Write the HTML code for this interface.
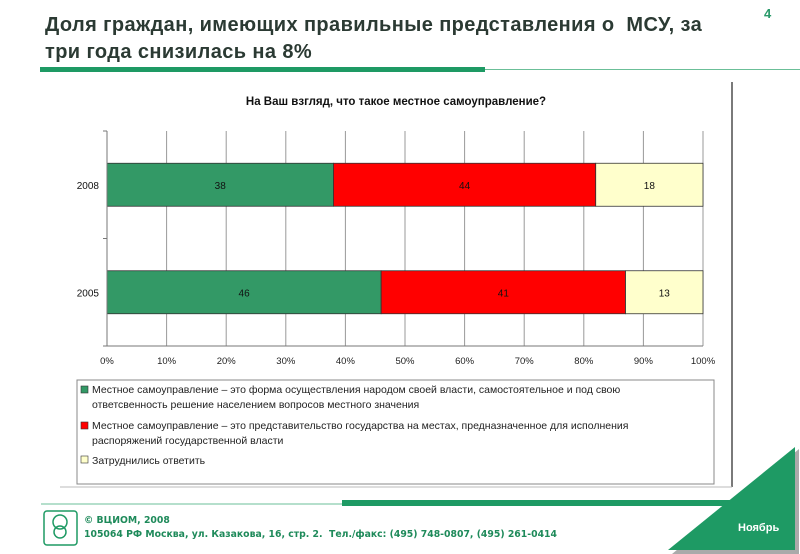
<!DOCTYPE html>
<html><head><meta charset="utf-8"><style>
body{margin:0;width:800px;height:554px;background:#fff;overflow:hidden;position:relative;font-family:"Liberation Sans","DejaVu Sans",sans-serif}
.abs{position:absolute}
</style></head><body>
<div class="abs" style="left:45px;top:12px;width:720px;font-size:20px;letter-spacing:0.4px;font-weight:bold;line-height:27px;color:#2b3a33;white-space:nowrap">Доля граждан, имеющих правильные представления о&nbsp; МСУ, за<br>три года снизилась на 8%</div>
<div class="abs" style="left:764px;top:6px;font-size:13px;font-weight:bold;color:#2a9a6a">4</div>
<div class="abs" style="left:40px;top:67px;width:445px;height:5px;background:#1e9a64"></div>
<div class="abs" style="left:485px;top:69px;width:315px;height:1px;background:#6bbf98"></div>

<svg class="abs" style="left:0;top:0" width="800" height="554">
<line x1="732" y1="82" x2="732" y2="487" stroke="#222" stroke-width="1.2"/>
<line x1="60" y1="487" x2="732" y2="487" stroke="#bbb" stroke-width="1"/>
<text x="396" y="105" text-anchor="middle" font-size="11.5" font-weight="bold" fill="#111">На Ваш взгляд, что такое местное самоуправление?</text>
<g id="grid"></g><g id="bars"></g><g id="axes"></g>
<rect x="77" y="380" width="637" height="104" fill="#fff" stroke="#888"/>
<rect x="81" y="386" width="7" height="7" fill="#339966" stroke="#333" stroke-width="0.6"/>
<text x="92" y="393" font-size="10.5" fill="#222">Местное самоуправление – это форма осуществления народом своей власти, самостоятельное и под свою</text>
<text x="92" y="408" font-size="10.5" fill="#222">ответсвенность решение населением вопросов местного значения</text>
<rect x="81" y="422" width="7" height="7" fill="#ff0000" stroke="#333" stroke-width="0.6"/>
<text x="92" y="429" font-size="10.5" fill="#222">Местное самоуправление – это представительство государства на местах, предназначенное для исполнения</text>
<text x="92" y="444" font-size="10.5" fill="#222">распоряжений государственной власти</text>
<rect x="81" y="456" width="7" height="7" fill="#ffffcc" stroke="#333" stroke-width="0.6"/>
<text x="92" y="464" font-size="10.5" fill="#222">Затруднились ответить</text>
<line x1="41" y1="504" x2="342" y2="504" stroke="#6bbf98" stroke-width="1"/>
<polygon points="799,449 799,554 672,554" fill="#aaa"/>
<rect x="342" y="500" width="400" height="6" fill="#1e9a64"/>
<polygon points="795,447 795,550 668,550" fill="#1e9a64"/>
<text x="738" y="531" font-size="11" font-weight="bold" fill="#fff">Ноябрь</text>
<rect x="44" y="511" width="33" height="34" rx="3" fill="#fff" stroke="#1e9a64" stroke-width="1.5"/>
<circle cx="60" cy="522" r="7" fill="none" stroke="#1e9a64" stroke-width="1.5"/>
<circle cx="60" cy="532" r="6" fill="none" stroke="#1e9a64" stroke-width="1.5"/>
<text x="84" y="523" font-family="DejaVu Sans" font-size="9.3" font-weight="bold" fill="#1e8a5a">© ВЦИОМ, 2008</text>
<text x="84" y="537" font-family="DejaVu Sans" font-size="9.3" font-weight="bold" fill="#1e8a5a" textLength="473">105064 РФ Москва, ул. Казакова, 16, стр. 2.&#160; Тел./факс: (495) 748-0807, (495) 261-0414</text>
</svg>
<script>
const years=["2008","2005"];
const agree=[38,46];
const state=[44,41];
const unsure=[18,13];
const ticks=[0,10,20,30,40,50,60,70,80,90,100];
const NS="http://www.w3.org/2000/svg";
const X0=107,X1=703,Y0=131,Y1=346;
const xs=v=>X0+(X1-X0)*v/100;
const bandH=(Y1-Y0)/years.length;
function mk(t,a,p){const e=document.createElementNS(NS,t);for(const k in a)e.setAttribute(k,a[k]);p.appendChild(e);return e;}
const grid=document.getElementById('grid'),bars=document.getElementById('bars'),axes=document.getElementById('axes');
ticks.forEach(t=>{
 const l=mk('line',{x1:xs(t),x2:xs(t),y1:Y0,y2:Y1,stroke:'#999','stroke-width':1},grid);
 
 
 const tx=mk('text',{x:xs(t),y:Y1+18,'text-anchor':'middle','font-size':9.5,fill:'#222'},axes);
 tx.textContent=t+'%';
 
 
});
mk('line',{x1:X0,x2:X0,y1:Y0,y2:Y1,stroke:'#777'},axes);
mk('line',{x1:X0,x2:X1,y1:Y1,y2:Y1,stroke:'#777'},axes);
for(let i=0;i<=years.length;i++)mk('line',{x1:X0-4,x2:X0,y1:Y0+i*bandH,y2:Y0+i*bandH,stroke:'#777'},axes);
const cols=['#339966','#ff0000','#ffffcc'];
years.forEach((y,i)=>{
 const cy=Y0+bandH*(i+0.5),h=43;
 const vals=[agree[i],state[i],unsure[i]];let acc=0;
 const yl=mk('text',{x:X0-8,y:cy+4,'text-anchor':'end','font-size':10,fill:'#111'},axes);
 yl.textContent=y;
 
 
 vals.forEach((v,j)=>{
  const r=mk('rect',{x:xs(acc),y:cy-h/2,width:xs(acc+v)-xs(acc),height:h,fill:cols[j],stroke:'#333','stroke-width':0.8},bars);
  
  
  const t=mk('text',{x:(xs(acc)+xs(acc+v))/2,y:cy+4,'text-anchor':'middle','font-size':10,fill:'#111'},bars);
  t.textContent=v;
  
  
  acc+=v;
 });
});
</script>
</body></html>
